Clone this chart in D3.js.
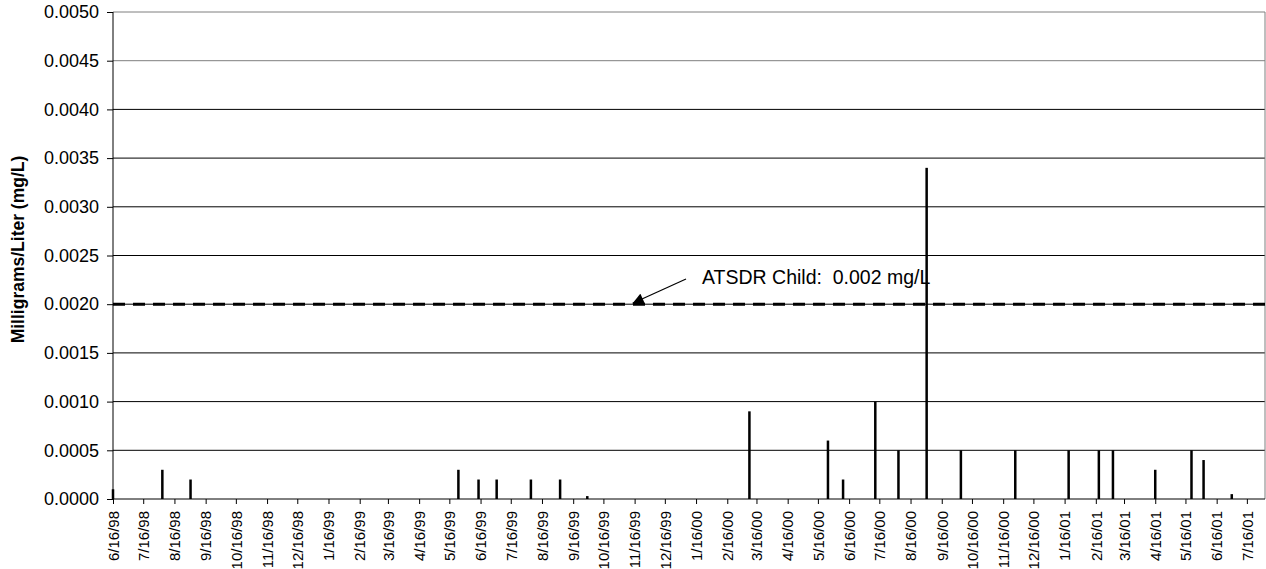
<!DOCTYPE html>
<html>
<head>
<meta charset="utf-8">
<script src="https://cdn.jsdelivr.net/npm/d3@7"></script>
<style>
  body { margin: 0; background: #fff; }
  text { font-family: Arial, "Liberation Sans", sans-serif; }
</style>
</head>
<body>
<div class="canvas"></div>
<script>
// sample dates and measured concentrations (mg/L)
const sampleDates = [
  "6/16/98", "8/4/98", "9/1/98", "5/25/99", "6/14/99", "7/2/99", "8/5/99",
  "9/3/99", "9/30/99", "3/9/00", "5/26/00", "6/10/00", "7/12/00", "8/4/00",
  "9/1/00", "10/5/00", "11/28/00", "1/20/01", "2/19/01", "3/5/01", "4/16/01",
  "5/22/01", "6/3/01", "7/1/01"
];
const sampleValues = [
  0.0001, 0.0003, 0.0002, 0.0003, 0.0002, 0.0002, 0.0002,
  0.0002, 0.00003, 0.0009, 0.0006, 0.0002, 0.0010, 0.0005,
  0.0034, 0.0005, 0.0005, 0.0005, 0.0005, 0.0005, 0.0003,
  0.0005, 0.0004, 0.00005
];
const xTickLabels = [
  "6/16/98", "7/16/98", "8/16/98", "9/16/98", "10/16/98", "11/16/98", "12/16/98",
  "1/16/99", "2/16/99", "3/16/99", "4/16/99", "5/16/99", "6/16/99", "7/16/99",
  "8/16/99", "9/16/99", "10/16/99", "11/16/99", "12/16/99", "1/16/00", "2/16/00",
  "3/16/00", "4/16/00", "5/16/00", "6/16/00", "7/16/00", "8/16/00", "9/16/00",
  "10/16/00", "11/16/00", "12/16/00", "1/16/01", "2/16/01", "3/16/01", "4/16/01",
  "5/16/01", "6/16/01", "7/16/01"
];
const yTicks = [0, 0.0005, 0.001, 0.0015, 0.002, 0.0025, 0.003, 0.0035, 0.004, 0.0045, 0.005];
const xDomain = ["6/16/98", "8/3/01"];
const atsdrChild = 0.002;
const atsdrLabel = "ATSDR Child:  0.002 mg/L";
const yTitle = "Milligrams/Liter (mg/L)";

const width = 1266;
const height = 569;
const plot = { left: 113, right: 1265, top: 12, bottom: 499 };

const parse = d3.utcParse("%m/%d/%y");
const fmt = d => `${d.getUTCMonth() + 1}/${d.getUTCDate()}/${d3.utcFormat("%y")(d)}`;

const svg = d3.select(".canvas")
  .append("svg")
  .attr("width", width)
  .attr("height", height);

const x = d3.scaleUtc()
  .domain(xDomain.map(parse))
  .range([plot.left, plot.right]);

const y = d3.scaleLinear()
  .domain([0, 0.005])
  .range([plot.bottom, plot.top]);

// gridlines
svg.append("g")
  .selectAll("line")
  .data(yTicks.slice(1))
  .enter()
  .append("line")
  .attr("x1", plot.left)
  .attr("x2", plot.right)
  .attr("y1", d => y(d))
  .attr("y2", d => y(d))
  .attr("stroke", d => (d >= 0.0045 ? "#7f7f7f" : "#000"))
  .attr("stroke-width", 1);

// right border
svg.append("line")
  .attr("x1", plot.right)
  .attr("x2", plot.right)
  .attr("y1", plot.top)
  .attr("y2", plot.bottom)
  .attr("stroke", "#7f7f7f");

// bars
const data = sampleDates.map((d, i) => ({ date: parse(d), value: sampleValues[i] }));
svg.append("g")
  .selectAll("rect")
  .data(data)
  .enter()
  .append("rect")
  .attr("x", d => x(d.date) - 1.25)
  .attr("width", 2.5)
  .attr("y", d => y(d.value))
  .attr("height", d => y(0) - y(d.value))
  .attr("fill", "#000");

// reference line
svg.append("line")
  .attr("x1", plot.left)
  .attr("x2", plot.right)
  .attr("y1", y(atsdrChild))
  .attr("y2", y(atsdrChild))
  .attr("stroke", "#000")
  .attr("stroke-width", 3)
  .attr("stroke-dasharray", "12,8");

// y axis
const yAxis = svg.append("g")
  .attr("transform", `translate(${plot.left},0)`)
  .call(d3.axisLeft(y).tickValues(yTicks).tickFormat(d3.format(".4f")).tickSize(6).tickPadding(8));
yAxis.select(".domain").attr("stroke", "#000").attr("d", `M0,${plot.top}V${plot.bottom}`);
yAxis.selectAll("text")
  .attr("font-size", 18)
  .attr("font-family", "Arial, 'Liberation Sans', sans-serif")
  .attr("fill", "#000");

// x axis
const xAxis = svg.append("g")
  .attr("transform", `translate(0,${plot.bottom})`)
  .call(d3.axisBottom(x).tickValues(xTickLabels.map(parse)).tickFormat(fmt).tickSize(5));
xAxis.select(".domain").attr("stroke", "#000").attr("d", `M${plot.left},0H${plot.right}`);
xAxis.selectAll("text")
  .attr("font-size", 15)
  .attr("font-family", "Arial, 'Liberation Sans', sans-serif")
  .attr("fill", "#000")
  .attr("text-anchor", "end")
  .attr("transform", "rotate(-90)")
  .attr("x", -12)
  .attr("y", 0)
  .attr("dy", "0.35em");

// y title
svg.append("text")
  .attr("transform", `translate(24,${(plot.top + plot.bottom) / 2 - 6}) rotate(-90)`)
  .attr("text-anchor", "middle")
  .attr("font-size", 17.5)
  .attr("font-weight", "bold")
  .text(yTitle);

// annotation
const defs = svg.append("defs");
defs.append("marker")
  .attr("id", "arrow")
  .attr("viewBox", "0 0 10 10")
  .attr("refX", 10)
  .attr("refY", 5)
  .attr("markerWidth", 13)
  .attr("markerHeight", 11)
  .attr("markerUnits", "userSpaceOnUse")
  .attr("orient", "auto")
  .append("path")
  .attr("d", "M0,0L10,5L0,10Z")
  .attr("fill", "#000");

svg.append("line")
  .attr("x1", 686)
  .attr("y1", 279)
  .attr("x2", x(parse("11/16/99")) - 2)
  .attr("y2", y(atsdrChild) - 1)
  .attr("stroke", "#000")
  .attr("stroke-width", 1.2)
  .attr("marker-end", "url(#arrow)");

svg.append("text")
  .attr("x", 702)
  .attr("y", 284)
  .attr("font-size", 19.5)
  .style("white-space", "pre")
  .text(atsdrLabel);
</script>
</body>
</html>
